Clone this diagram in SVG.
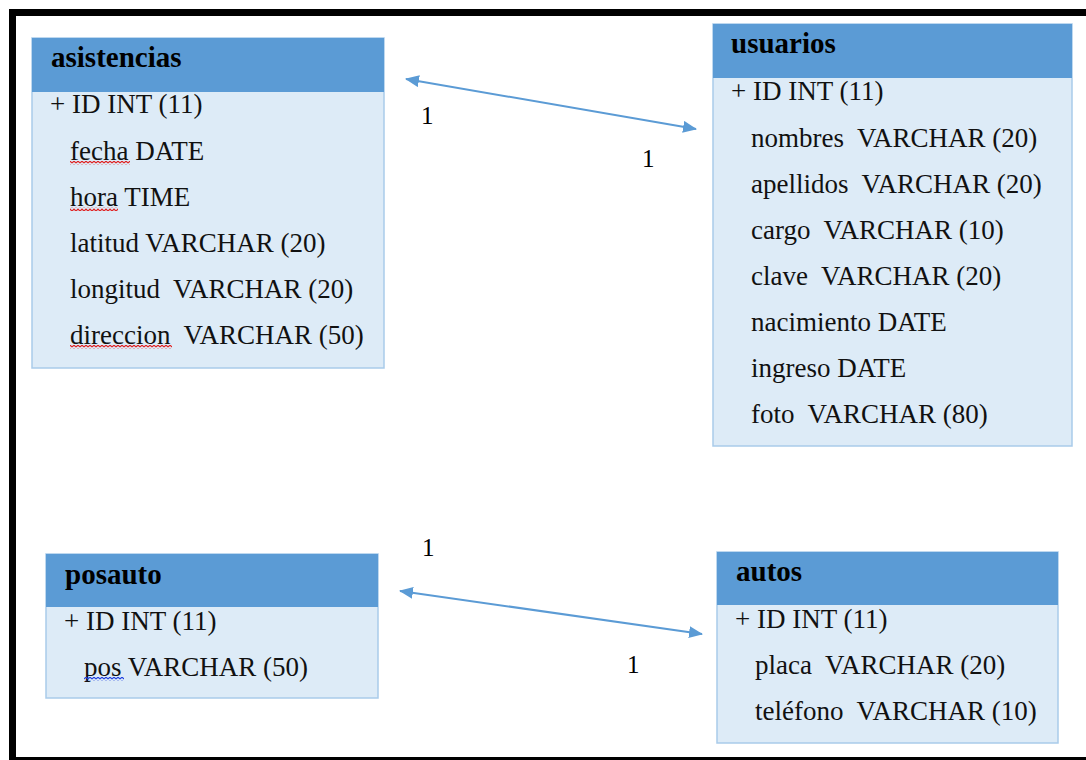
<svg xmlns="http://www.w3.org/2000/svg" width="1086" height="760" viewBox="0 0 1086 760">
  <style>
    .frame { fill: none; stroke: #000; stroke-width: 7; }
    .hdr { fill: #5B9BD5; }
    .body { fill: #DDEBF7; stroke: #A9CBEA; stroke-width: 1.5; }
    .title { font-family: "Liberation Serif", "Times New Roman", serif; font-weight: bold; font-size: 29px; fill: #000; }
    .fld { font-family: "Liberation Serif", "Times New Roman", serif; font-size: 27px; fill: #111; white-space: pre; }
    .card { font-family: "Liberation Serif", "Times New Roman", serif; font-size: 25px; fill: #000; }
    .rel { stroke: #5B9BD5; stroke-width: 2; fill: none; marker-start: url(#tip); marker-end: url(#tip); }
  </style>
  <defs>
    <marker id="tip" viewBox="0 0 14 12" refX="13" refY="6" markerWidth="14" markerHeight="12" markerUnits="userSpaceOnUse" orient="auto-start-reverse">
      <path d="M0 0 L14 6 L0 12 Z" fill="#5B9BD5"/>
    </marker>
    <pattern id="waveRed" width="4" height="4" patternUnits="userSpaceOnUse">
      <path d="M0 3 L2 1 L4 3" stroke="#E02020" stroke-width="1.2" fill="none"/>
    </pattern>
    <pattern id="waveBlue" width="4" height="4" patternUnits="userSpaceOnUse">
      <path d="M0 3 L2 1 L4 3" stroke="#2040E0" stroke-width="1.2" fill="none"/>
    </pattern>
  </defs>

  <rect width="1086" height="760" fill="#fff"/>
  <rect class="frame" x="12.5" y="12.5" width="1100" height="748"/>

  <!-- asistencias table -->
  <g id="asistencias">
    <rect class="body" x="32" y="38" width="352" height="330"/>
    <rect class="hdr" x="32" y="38" width="352" height="54"/>
    <text class="title" x="51" y="67">asistencias</text>
    <text class="fld" x="50" y="113">+ ID INT (11)</text>
    <text class="fld" x="70" y="160">fecha DATE</text>
    <text class="fld" x="70" y="206">hora TIME</text>
    <text class="fld" x="70" y="252">latitud VARCHAR (20)</text>
    <text class="fld" x="70" y="298">longitud  VARCHAR (20)</text>
    <text class="fld" x="70" y="344">direccion  VARCHAR (50)</text>
    <rect x="70" y="161" width="60" height="4" fill="url(#waveRed)"/>
    <rect x="70" y="207" width="48" height="4" fill="url(#waveRed)"/>
    <rect x="70" y="345" width="102" height="4" fill="url(#waveRed)"/>
  </g>

  <!-- usuarios table -->
  <g id="usuarios">
    <rect class="body" x="713" y="24" width="359" height="422"/>
    <rect class="hdr" x="713" y="24" width="359" height="54"/>
    <text class="title" x="731" y="53">usuarios</text>
    <text class="fld" x="731" y="100">+ ID INT (11)</text>
    <text class="fld" x="751" y="147">nombres  VARCHAR (20)</text>
    <text class="fld" x="751" y="193">apellidos  VARCHAR (20)</text>
    <text class="fld" x="751" y="239">cargo  VARCHAR (10)</text>
    <text class="fld" x="751" y="285">clave  VARCHAR (20)</text>
    <text class="fld" x="751" y="331">nacimiento DATE</text>
    <text class="fld" x="751" y="377">ingreso DATE</text>
    <text class="fld" x="751" y="423">foto  VARCHAR (80)</text>
  </g>

  <!-- posauto table -->
  <g id="posauto">
    <rect class="body" x="46" y="554" width="332" height="144"/>
    <rect class="hdr" x="46" y="554" width="332" height="53"/>
    <text class="title" x="65" y="584">posauto</text>
    <text class="fld" x="64" y="630">+ ID INT (11)</text>
    <text class="fld" x="84" y="676">pos VARCHAR (50)</text>
    <rect x="84" y="677" width="40" height="4" fill="url(#waveBlue)"/>
  </g>

  <!-- autos table -->
  <g id="autos">
    <rect class="body" x="717" y="552" width="341" height="191"/>
    <rect class="hdr" x="717" y="552" width="341" height="53"/>
    <text class="title" x="736" y="581">autos</text>
    <text class="fld" x="735" y="628">+ ID INT (11)</text>
    <text class="fld" x="755" y="674">placa  VARCHAR (20)</text>
    <text class="fld" x="755" y="720">teléfono  VARCHAR (10)</text>
  </g>

  <!-- relationships -->
  <g id="connectors">
    <line class="rel" x1="406" y1="79" x2="696" y2="129"/>
    <text class="card" x="421" y="124">1</text>
    <text class="card" x="642" y="167">1</text>
    <line class="rel" x1="400" y1="591" x2="702" y2="634"/>
    <text class="card" x="422" y="556">1</text>
    <text class="card" x="627" y="673">1</text>
  </g>
</svg>
